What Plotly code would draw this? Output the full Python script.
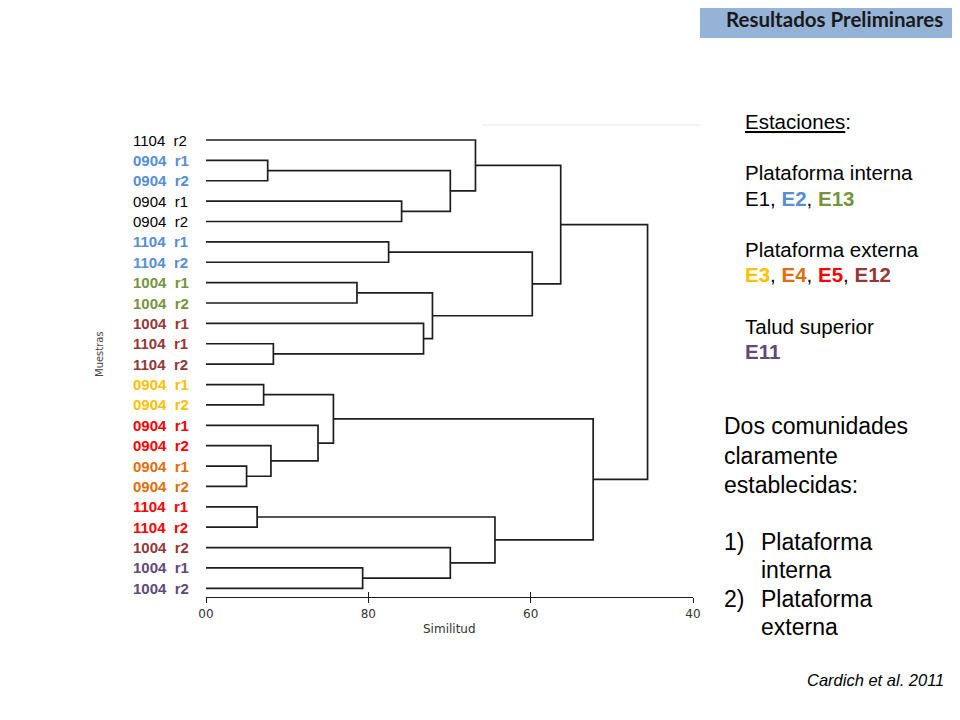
import plotly.graph_objects as go

# ---------------- data ----------------
leaf_labels = ["1104 r2", "0904 r1", "0904 r2", "0904 r1", "0904 r2", "1104 r1", "1104 r2",
               "1004 r1", "1004 r2", "1004 r1", "1104 r1", "1104 r2", "0904 r1", "0904 r2",
               "0904 r1", "0904 r2", "0904 r1", "0904 r2", "1104 r1", "1104 r2", "1004 r2",
               "1004 r1", "1004 r2"]
leaf_station = ["E1", "E2", "E2", "E1", "E1", "E2", "E2", "E13", "E13", "E12", "E12", "E12",
                "E3", "E3", "E5", "E5", "E4", "E4", "E5", "E5", "E12", "E11", "E11"]
station_colors = {"E1": "#000000", "E2": "#558ED5", "E13": "#77933C", "E3": "#FFC000",
                  "E4": "#E46C0A", "E5": "#FF0000", "E12": "#953735", "E11": "#604A7B"}

# linkage: (left, right, similarity); leaves 0..22, internal nodes 23..
link_left = [1, 3, 23, 0, 5, 7, 10, 9, 28, 27, 26, 12, 16, 15, 14, 34, 18, 21, 20, 39, 38, 33]
link_right = [2, 4, 24, 25, 6, 8, 11, 29, 30, 31, 32, 13, 17, 35, 36, 37, 19, 22, 40, 41, 42, 43]
link_sim = [92.4, 75.9, 69.9, 66.8, 77.5, 81.4, 91.7, 73.2, 72.1, 59.8, 56.3, 92.9, 95.0,
            92.0, 86.2, 84.3, 93.7, 80.7, 69.9, 64.4, 52.3, 45.6]

x_ticks = [100, 80, 60, 40]
x_ticktext = ["00", "80", "60", "40"]

# ---------------- build dendrogram paths ----------------
n = len(leaf_labels)
node_y = {i: float(i) for i in range(n)}
node_x = {i: 100.0 for i in range(n)}
xs, ys = [], []
for k, (a, b, s) in enumerate(zip(link_left, link_right, link_sim)):
    nid = n + k
    xs += [node_x[a], s, s, node_x[b], None]
    ys += [node_y[a], node_y[a], node_y[b], node_y[b], None]
    node_x[nid] = s
    node_y[nid] = (node_y[a] + node_y[b]) / 2

# ---------------- layout geometry (page offset of 8px by the browser body margin) ----------------
OFF = 8
W, H = 960, 720
PL, PR, PT, PB = 206, 693, 125, 597          # plot area in page pixels
ML, MT = PL - OFF, PT - OFF
MR, MB = W - (PR - OFF), H - (PB - OFF)
PW, PH = W - ML - MR, H - MT - MB


def px(xp):
    return (xp - OFF - ML) / PW


def py(yp):
    return (H - MB - (yp - OFF)) / PH


fig = go.Figure()
fig.add_trace(go.Scatter(x=xs, y=ys, mode="lines", line=dict(color="#1E1E1E", width=1.7),
                         hoverinfo="skip", showlegend=False))
# empty trace so the overlaid tick axis (inner tick half) is drawn
fig.add_trace(go.Scatter(x=[None], y=[None], xaxis="x2", yaxis="y", mode="lines",
                         hoverinfo="skip", showlegend=False))

annotations = []
# leaf labels
for i, (lab, st) in enumerate(zip(leaf_labels, leaf_station)):
    col = station_colors[st]
    txt = lab.replace(" ", "  ")
    if st != "E1":
        txt = "<b>" + txt + "</b>"
    annotations.append(dict(x=px(131), xref="paper", y=i, yref="y", text=txt, showarrow=False,
                            xanchor="left", yanchor="middle",
                            font=dict(family="Liberation Sans, Arial", size=15, color=col)))

# axis titles
annotations.append(dict(x=px(449), xref="paper", y=py(629), yref="paper", text="Similitud",
                        showarrow=False, xanchor="center", yanchor="middle",
                        font=dict(family="DejaVu Sans", size=12, color="#333333")))
annotations.append(dict(x=px(99), xref="paper", y=py(354), yref="paper", text="Muestras",
                        showarrow=False, textangle=-90, xanchor="center", yanchor="middle",
                        font=dict(family="DejaVu Sans", size=10, color="#444444")))

# title box text
annotations.append(dict(x=px(834), xref="paper", y=py(19), yref="paper",
                        text="<b>Resultados Preliminares</b>", showarrow=False,
                        xanchor="center", yanchor="middle",
                        font=dict(family="Lato, Open Sans", size=20.5, color="#1A1A1A")))


def c(st):
    return "<span style='color:%s'><b>%s</b></span>" % (station_colors[st], st)


station_lines = [
    (122, "<u>Estaciones</u>:"),
    (173, "Plataforma interna"),
    (198, "E1, " + c("E2") + ", " + c("E13")),
    (249, "Plataforma externa"),
    (274, c("E3") + ", " + c("E4") + ", " + c("E5") + ", " + c("E12")),
    (326, "Talud superior"),
    (351, c("E11")),
]
for yp, t in station_lines:
    annotations.append(dict(x=px(743), xref="paper", y=py(yp), yref="paper", text=t,
                            showarrow=False, xanchor="left", yanchor="middle",
                            font=dict(family="Liberation Sans, Arial", size=20.5, color="#000000")))

big_lines = [
    (722, 426, "Dos comunidades"),
    (722, 456, "claramente"),
    (722, 485, "establecidas:"),
    (722, 542, "1)"),
    (759, 542, "Plataforma"),
    (759, 570, "interna"),
    (722, 599, "2)"),
    (759, 599, "Plataforma"),
    (759, 627, "externa"),
]
for xp, yp, t in big_lines:
    annotations.append(dict(x=px(xp), xref="paper", y=py(yp), yref="paper", text=t,
                            showarrow=False, xanchor="left", yanchor="middle",
                            font=dict(family="Liberation Sans, Arial", size=23, color="#000000")))

# citation
annotations.append(dict(x=px(946), xref="paper", y=py(680), yref="paper",
                        text="<i>Cardich et al. 2011</i>", showarrow=False,
                        xanchor="right", yanchor="middle",
                        font=dict(family="Liberation Sans, Arial", size=16.5, color="#000000")))

shapes = [
    dict(type="rect", xref="paper", yref="paper", x0=px(700), x1=px(975), y0=py(38), y1=py(-10),
         fillcolor="#95B3D7", line=dict(width=0), layer="below"),
    dict(type="line", xref="paper", yref="paper", x0=px(482), x1=px(700), y0=py(125), y1=py(125),
         line=dict(color="#E6E6E6", width=1)),
]

fig.update_layout(
    width=W, height=H,
    margin=dict(l=ML, r=MR, t=MT, b=MB, pad=0),
    paper_bgcolor="white", plot_bgcolor="white",
    showlegend=False,
    xaxis=dict(range=[100, 40], tickvals=x_ticks, ticktext=x_ticktext, showgrid=False,
               zeroline=False, showline=True, linecolor="#1E1E1E", linewidth=1.3,
               ticks="outside", ticklen=5, tickwidth=1.3, tickcolor="#1E1E1E",
               tickfont=dict(family="DejaVu Sans", size=12, color="#333333"),
               fixedrange=True),
    xaxis2=dict(overlaying="x", matches="x", anchor="y", side="bottom",
                tickvals=x_ticks, showticklabels=False, ticks="inside", ticklen=5,
                tickwidth=1.3, tickcolor="#1E1E1E", showgrid=False, zeroline=False,
                showline=False, fixedrange=True),
    yaxis=dict(range=[22 + 8.7 / 20.38, -15 / 20.38], visible=False, fixedrange=True),
    annotations=annotations,
    shapes=shapes,
)

fig.write_html("out.html")
